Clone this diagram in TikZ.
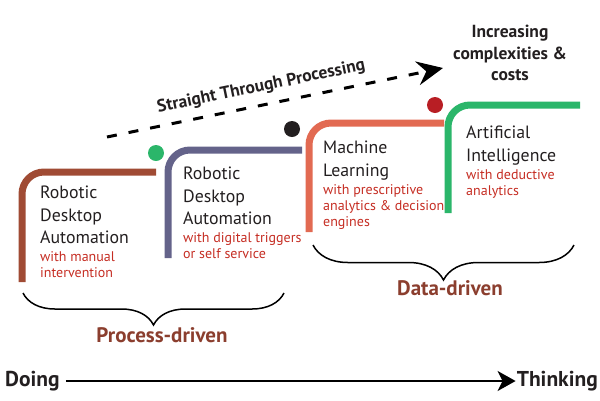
\documentclass[tikz,border=0pt]{standalone}
\usepackage{fontspec}
\setmainfont{PT Sans}
\usetikzlibrary{positioning,arrows.meta,decorations.pathreplacing}
\definecolor{rustbrown}{RGB}{160,75,52}
\definecolor{rpaslate}{RGB}{100,99,138}
\definecolor{mlcoral}{RGB}{226,106,82}
\definecolor{aigreen}{RGB}{43,182,106}
\definecolor{dotred}{RGB}{184,30,36}
\definecolor{subred}{RGB}{197,45,35}
\definecolor{drivenbrown}{RGB}{139,62,46}
\definecolor{inkblack}{RGB}{35,31,32}

\begin{document}
\begin{tikzpicture}[x=1pt,y=-1pt,
    stair/.style={line width=7pt,rounded corners=22pt},
    title/.style={anchor=north west,inner sep=0pt,align=left,text=inkblack,
      font=\fontsize{17.8}{22.5}\selectfont,execute at end node=\strut},
    sub/.style={anchor=north west,inner sep=0pt,align=left,text=subred,
      font=\fontsize{14}{16}\selectfont},
    bold/.style={font=\fontsize{17.5}{21.5}\selectfont\bfseries,text=inkblack},
    driven/.style={font=\fontsize{21}{24}\selectfont\bfseries,text=drivenbrown},
    ends/.style={font=\fontsize{21.5}{24}\selectfont\bfseries,text=inkblack,inner sep=0pt},
    curly/.style={decorate,line width=1.5pt,decoration={brace,amplitude=#1}},
  ]
  \useasboundingbox (0,0) rectangle (600,400);

  % the four steps
  \draw[stair,rustbrown] (22,282) -- (22,172) -- (156,172);
  \draw[stair,rpaslate] (168,258) -- (168,150) -- (302,150);
  \draw[stair,mlcoral] (309,232) -- (309,123) -- (444,123);
  \draw[stair,aigreen] (448,213) -- (448,105) -- (580,105);
  \fill[aigreen] (156,153) circle (8);
  \fill[inkblack] (292,129) circle (8);
  \fill[dotred] (435,105) circle (8);

  \node[title] (rda) at (40,186) {Robotic\\Desktop\\Automation};
  \node[below=1pt of rda.south west,sub] (rdasub) {with manual\\intervention};
  \node[title] (rdad) at (183,167) {Robotic\\Desktop\\Automation};
  \node[below=1pt of rdad.south west,sub] (rdadsub) {with digital triggers\\or self service};
  \node[title] (ml) at (323,141) {Machine\\Learning};
  \node[below=1pt of ml.south west,sub] (mlsub) {with prescriptive\\analytics \& decision\\engines};
  \node[title] (ai) at (466,126) {Artificial\\Intelligence};
  \node[below=1pt of ai.south west,sub] (aisub) {with deductive\\analytics};

  % straight through processing
  \coordinate (stpa) at (107,137);
  \coordinate (stpb) at (443,68);
  \draw[line width=3pt,dash pattern=on 10pt off 12pt,
    -{Stealth[length=26pt,width=24pt,inset=9pt]}] (stpa) -- (stpb)
    node[pos=0.47,above=5pt,sloped,bold] {Straight Through Processing};
  \node[bold,align=center,anchor=north] (cost) at (510,22) {Increasing\\complexities \&\\costs};

  % braces
  \draw[curly=32pt] (284,293) -- (23,293);
  \node[driven] (proc) at (162,335) {Process-driven};
  \draw[curly=35pt] (574,245) -- (313,245);
  \node[driven] (data) at (450,288) {Data-driven};

  % doing -> thinking
  \node[ends,anchor=west] (doing) at (5,381) {Doing};
  \node[ends,anchor=east] (think) at (598,381) {Thinking};
  \draw[line width=2pt,shorten <=6pt,shorten >=1pt,
    -{Stealth[length=18pt,width=20pt,inset=5pt]}] (doing) -- (think);
\end{tikzpicture}
\end{document}
